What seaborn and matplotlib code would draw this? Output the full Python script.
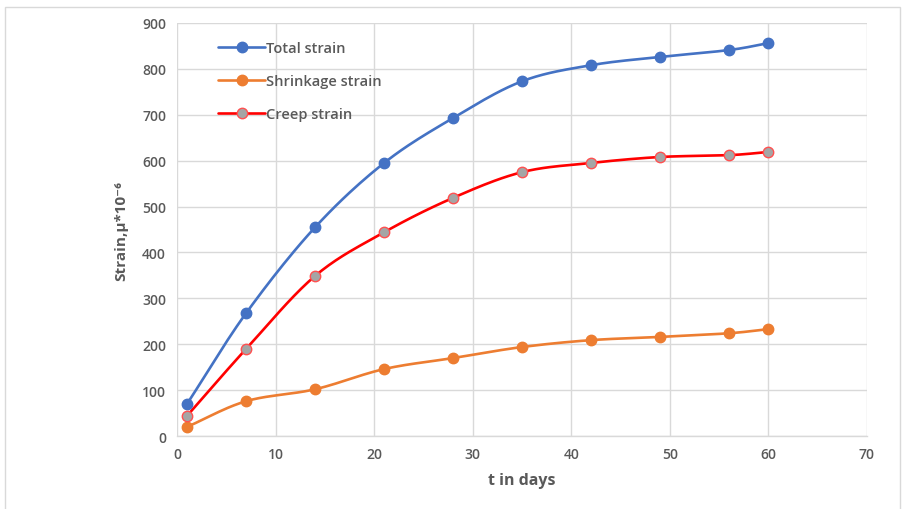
import numpy as np
import pandas as pd
import matplotlib
matplotlib.use("Agg")
import matplotlib.pyplot as plt
import seaborn as sns

days = [1, 7, 14, 21, 28, 35, 42, 49, 56, 60]
total_strain = [70, 268, 455, 595, 693, 773, 808, 826, 841, 856]
shrinkage_strain = [20, 76, 102, 146, 170, 194, 209, 216, 224, 233]
creep_strain = [44, 190, 349, 444, 519, 575, 595, 608, 612, 619]
series_names = ["Total strain", "Shrinkage strain", "Creep strain"]
x_ticks = [0, 10, 20, 30, 40, 50, 60, 70]
y_ticks = [0, 100, 200, 300, 400, 500, 600, 700, 800, 900]


def smooth(x, y, n=20):
    # Catmull-Rom style curve through the points (like Excel's smoothed line)
    x = np.asarray(x, float)
    y = np.asarray(y, float)
    px = np.concatenate([[2 * x[0] - x[1]], x, [2 * x[-1] - x[-2]]])
    py = np.concatenate([[2 * y[0] - y[1]], y, [2 * y[-1] - y[-2]]])
    xs, ys = [], []
    for i in range(1, len(px) - 2):
        t = np.linspace(0, 1, n, endpoint=(i == len(px) - 3))
        p0, p1, p2, p3 = px[i - 1], px[i], px[i + 1], px[i + 2]
        q0, q1, q2, q3 = py[i - 1], py[i], py[i + 1], py[i + 2]
        t2, t3 = t * t, t * t * t
        xs.append(0.5 * (2 * p1 + (-p0 + p2) * t + (2 * p0 - 5 * p1 + 4 * p2 - p3) * t2 + (-p0 + 3 * p1 - 3 * p2 + p3) * t3))
        ys.append(0.5 * (2 * q1 + (-q0 + q2) * t + (2 * q0 - 5 * q1 + 4 * q2 - q3) * t2 + (-q0 + 3 * q1 - 3 * q2 + q3) * t3))
    return np.concatenate(xs), np.concatenate(ys)


sns.set_theme(style="white")
plt.rcParams["font.family"] = ["Open Sans", "DejaVu Sans"]

fig = plt.figure(figsize=(9.04, 5.10), dpi=100)
ax = fig.add_axes([0.196, 0.143, 0.763, 0.810])

styles = [
    dict(color="#4472C4", mfc="#4472C4", mec="#4472C4"),
    dict(color="#ED7D31", mfc="#ED7D31", mec="#ED7D31"),
    dict(color="#FF0000", mfc="#A5A5A5", mec="#FF5050"),
]
data = [total_strain, shrinkage_strain, creep_strain]

for name, vals, st in zip(series_names, data, styles):
    sx, sy = smooth(days, vals)
    sns.lineplot(x=sx, y=sy, ax=ax, color=st["color"], linewidth=1.9, sort=False, estimator=None, zorder=3)
    df = pd.DataFrame({"t": days, "v": vals})
    ax.plot(df["t"], df["v"], linestyle="none", marker="o", markersize=7.5,
            markerfacecolor=st["mfc"], markeredgecolor=st["mec"], markeredgewidth=1.0, zorder=4)

# legend handles
handles = [plt.Line2D([], [], color=st["color"], linewidth=1.9, marker="o", markersize=7.5,
                      markerfacecolor=st["mfc"], markeredgecolor=st["mec"]) for st in styles]
leg = ax.legend(handles, series_names, loc="upper left", bbox_to_anchor=(0.047, 0.978),
                frameon=False, prop={"size": 10.5, "weight": "semibold"},
                labelspacing=1.3, handlelength=3.2,
                handletextpad=0.1, borderaxespad=0.2)
for t in leg.get_texts():
    t.set_color("#595959")

ax.set_xlim(0, 70)
ax.set_ylim(0, 900)
ax.set_xticks(x_ticks)
ax.set_yticks(y_ticks)
ax.grid(True, color="#D9D9D9", linewidth=1.0)
ax.set_axisbelow(True)
for s in ["top", "right", "left"]:
    ax.spines[s].set_visible(False)
ax.spines["bottom"].set_color("#D9D9D9")
ax.spines["bottom"].set_linewidth(1.0)
ax.tick_params(axis="both", length=0, labelsize=10, labelcolor="#595959", pad=8)
for lab in ax.get_xticklabels() + ax.get_yticklabels():
    lab.set_fontweight("semibold")

ax.set_xlabel("t in days", fontsize=11.5, fontweight="bold", color="#595959", labelpad=8)
ax.set_ylabel("Strain,μ*10⁻⁶", fontsize=11, fontweight="bold", color="#595959", labelpad=10,
              family=["Open Sans", "DejaVu Sans"])

# outer chart border
fig.patches.append(plt.Rectangle((0.006, -0.01), 0.99, 0.995, transform=fig.transFigure,
                                 fill=False, edgecolor="#D9D9D9", linewidth=1.0))

fig.savefig("out.png", dpi=100)
